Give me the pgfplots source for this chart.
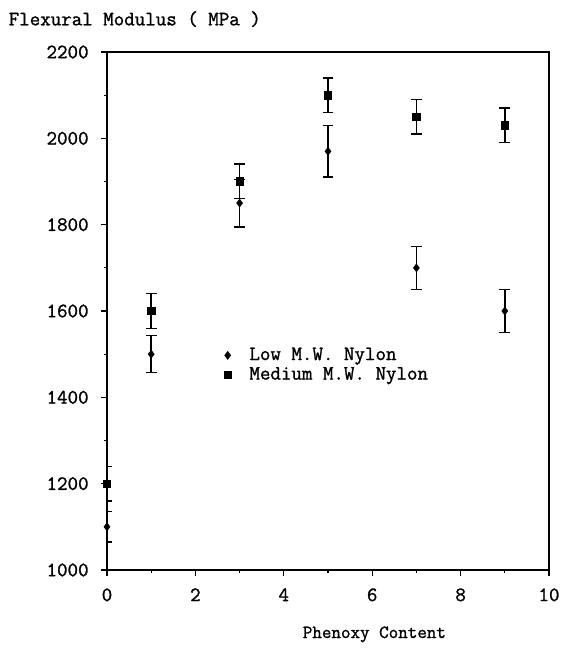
\documentclass[border=0pt]{standalone}
\usepackage{fontspec}
\setmonofont{Latin Modern Mono}[FakeBold=1.2, BoldFont={Latin Modern Mono}, BoldFeatures={FakeBold=1.2}]
\usepackage{pgfplots}
\pgfplotsset{compat=1.18}
\usepackage{pgfplotstable}
\pgfplotstableread{
x y ey
0 1100 35
1 1500 43
3 1850 55
5 1970 60
7 1700 50
9 1600 50
}\lowmw
\pgfplotstableread{
x y ey
0 1200 40
1 1600 40
3 1900 40
5 2100 40
7 2050 40
9 2030 40
}\medmw
\newcommand\cf{\ttfamily\bfseries\fontsize{15.3}{17}\selectfont}
\begin{document}
\cf
\begin{tikzpicture}
\begin{axis}[name=ax, at={(0,0)}, anchor=south west,
  scale only axis, width=331.5pt, height=388.5pt,
  xmin=0, xmax=10, ymin=1000, ymax=2200,
  xtick={0,2,...,10}, minor xtick={1,3,...,9},
  ytick={1000,1200,...,2200}, minor ytick={1100,1300,...,2100},
  tick pos=left, tick align=outside,
  major tick length=4.5pt, minor tick length=2.5pt,
  every tick/.style={black, line width=0.8pt},
  axis line style={line width=1pt},
  /pgf/number format/assume math mode=true,
  /pgf/number format/1000 sep={},
  ticklabel style={font=\cf},
  xticklabel style={yshift=-4pt},
  yticklabel style={xshift=-4pt},
  xlabel={Phenoxy Content},
  xlabel style={font=\ttfamily\bfseries\fontsize{13.9}{15}\selectfont, at={(rel axis cs:0.605,0)}, anchor=base, yshift=-51pt},
  ylabel={Flexural Modulus ( MPa )},
  ylabel style={font=\cf, rotate=-90, at={(rel axis cs:0,1)}, anchor=base west, xshift=-79pt, yshift=20pt},
  legend style={at={(rel axis cs:0.255,0.435)}, anchor=north west, draw=none, fill=none,
    font=\cf, row sep=3pt, column sep=12pt, nodes={inner sep=0pt}},
  legend cell align=left,
]
\addplot[only marks, mark=diamond*, mark size=3pt, black,
  error bars/.cd, y dir=both, y explicit, error mark=-,
  error mark options={mark size=4pt, line width=1.1pt, rotate=90},
  error bar style={line width=1.1pt}]
  table[x=x, y=y, y error=ey] {\lowmw};
\addlegendentry{\hspace*{1.5pt}Low M.W. Nylon}
\addplot[only marks, mark=square*, mark size=2.8pt, black,
  error bars/.cd, y dir=both, y explicit, error mark=-,
  error mark options={mark size=4pt, line width=1.1pt, rotate=90},
  error bar style={line width=1.1pt}]
  table[x=x, y=y, y error=ey] {\medmw};
\addlegendentry{\hspace*{1.5pt}Medium M.W. Nylon}
\end{axis}
\pgfresetboundingbox
\path ([xshift=-80.25pt,yshift=-60pt]ax.south west) rectangle ([xshift=340.5pt,yshift=427.5pt]ax.south west);
\end{tikzpicture}
\end{document}
